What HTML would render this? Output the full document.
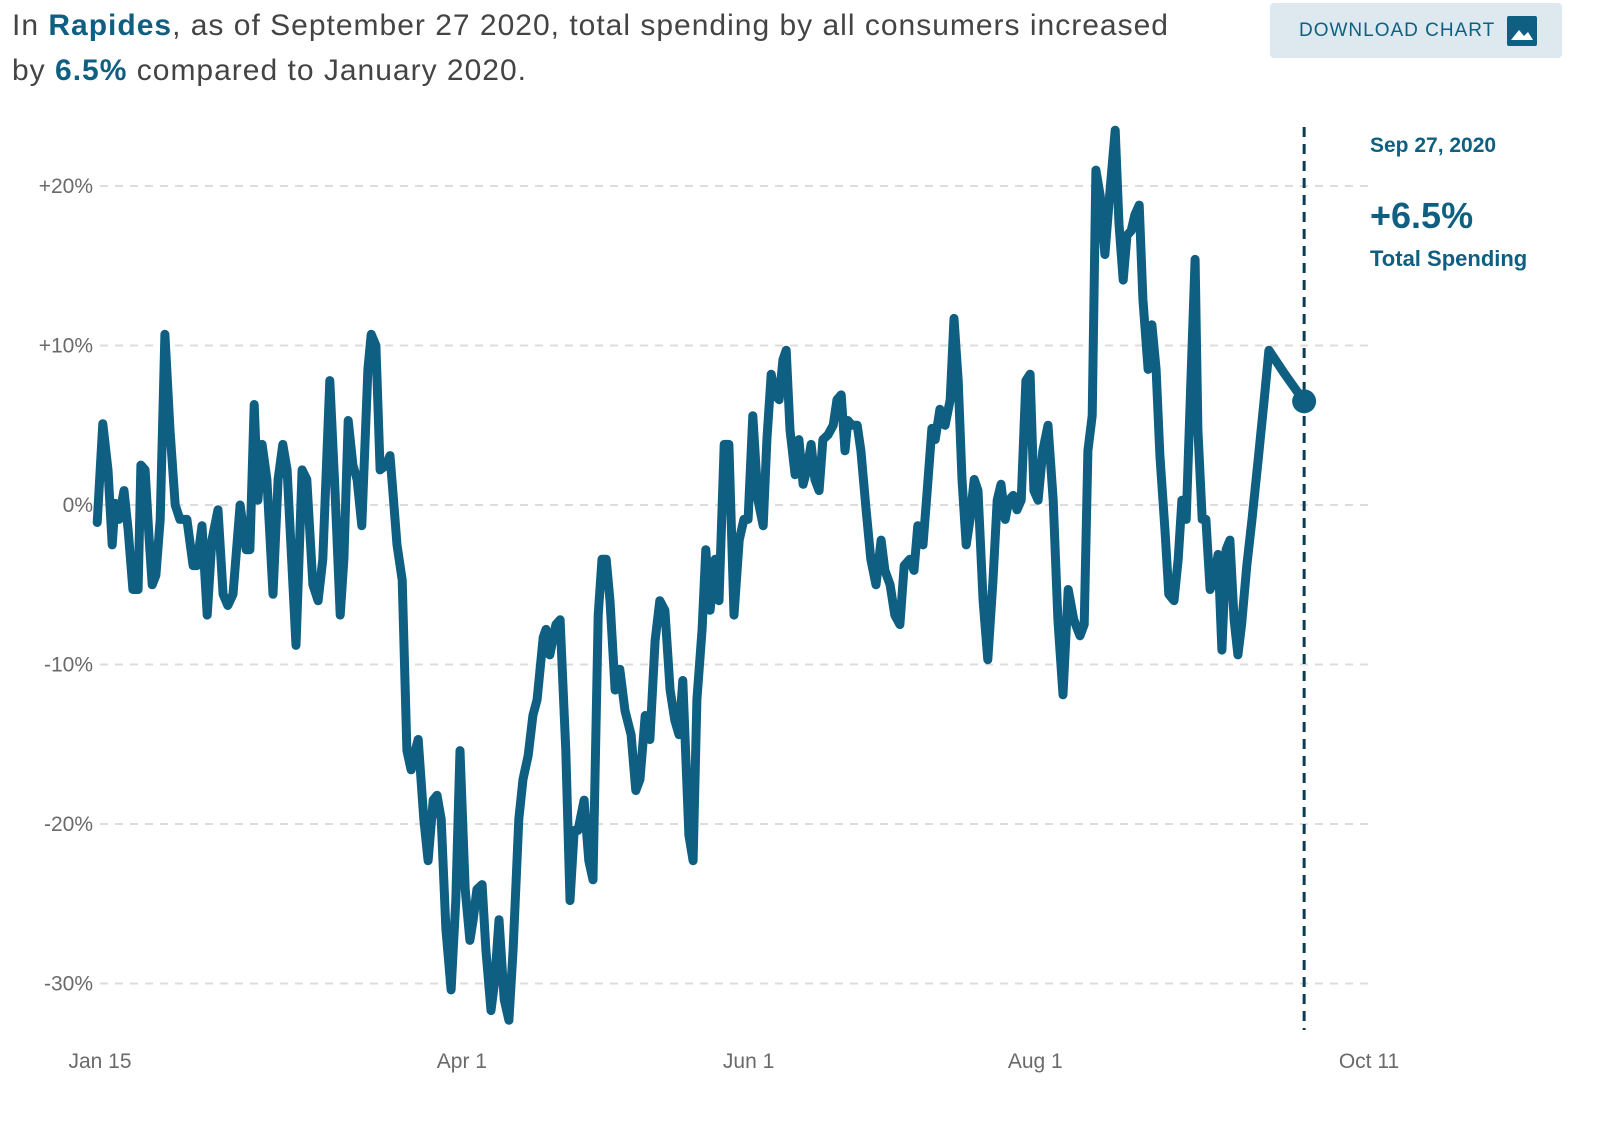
<!DOCTYPE html>
<html><head><meta charset="utf-8">
<style>
body{margin:0;background:#fff;font-family:"Liberation Sans",sans-serif;}
#wrap{position:relative;width:1605px;height:1128px;overflow:hidden;}
.hdr{position:absolute;left:12px;top:3px;font-size:30px;letter-spacing:1px;line-height:45px;color:#444;white-space:nowrap;}
.hdr b{color:#0f5f82}
.btn{position:absolute;left:1270px;top:3px;width:292px;height:55px;background:#dde9ef;border-radius:4px;color:#0f5f82;font-size:19px;letter-spacing:1px;}
</style></head><body>
<div id="wrap">
<div class="hdr">In <b>Rapides</b>, as of September 27 2020, total spending by all consumers increased<br>by <b>6.5%</b> compared to January 2020.</div>
<div class="btn"><span style="position:absolute;left:29px;top:17px">DOWNLOAD CHART</span>
<svg style="position:absolute;left:236px;top:12px" width="32" height="32"><rect x="1" y="1" width="30" height="30" rx="2" fill="#0f5f82"/><path d="M5 25 L13 15 L18 21 L22 17 L27 25 Z" fill="#fff"/></svg></div>
<svg id="chart" width="1605" height="1128" style="position:absolute;left:0;top:0"></svg>
</div>
<script>
const tickValues=[20,10,0,-10,-20,-30];
const tickLabels=["+20%","+10%","0%","-10%","-20%","-30%"];
const xTickDays=[0,77,138,199,270];
const xTickLabels=["Jan 15","Apr 1","Jun 1","Aug 1","Oct 11"];
const days=[-0.6,0.6,1.7,2.6,3.2,4.0,5.1,6.0,7.0,8.1,8.7,9.6,10.4,11.1,11.9,12.8,13.8,14.9,16.0,17.0,18.5,19.8,20.6,21.7,22.8,23.8,25.1,26.2,27.2,28.3,29.8,31.1,31.9,32.8,33.6,34.5,35.5,36.8,37.9,38.9,39.8,41.7,43.0,44.0,45.3,46.4,47.4,48.9,50.0,51.1,51.9,52.8,53.8,54.7,55.7,57.0,57.7,58.7,59.6,60.9,61.7,62.3,63.2,64.3,65.3,66.2,66.8,67.7,68.9,69.8,70.9,71.7,72.6,73.6,74.7,75.7,76.6,77.7,78.7,79.4,80.2,81.3,82.1,83.2,84.0,84.9,86.0,87.0,87.9,89.1,90.0,91.1,92.1,93.0,94.3,94.9,95.7,97.0,97.9,99.1,100.0,100.9,101.7,103.0,104.0,104.9,106.0,106.8,107.7,108.5,109.6,110.6,111.7,113.0,114.0,114.9,116.0,117.0,118.1,119.1,120.2,121.3,122.3,123.2,124.0,125.3,126.2,127.0,128.1,128.9,129.8,130.9,131.7,132.8,133.8,134.9,136.0,137.0,137.9,138.9,140.0,141.1,141.9,142.8,143.6,144.5,145.3,146.0,146.8,147.9,148.7,149.6,150.4,151.3,152.1,153.0,153.8,154.9,156.0,156.8,157.7,158.5,159.1,160.0,161.1,161.9,163.0,164.0,165.1,166.2,167.0,168.1,169.1,170.2,171.1,172.3,173.2,174.0,175.1,176.0,177.0,177.7,178.7,179.8,180.9,181.7,182.6,183.4,184.3,185.1,186.0,186.8,187.9,188.9,190.0,190.9,191.7,192.6,193.4,194.3,195.1,196.0,197.0,197.9,198.7,199.6,200.6,201.7,202.8,203.8,204.9,206.0,207.2,208.5,209.4,210.2,211.1,211.9,212.8,213.8,214.9,216.0,216.8,217.7,218.5,219.4,220.2,221.1,221.9,223.0,223.8,224.7,225.5,226.6,227.4,228.5,229.4,230.2,231.1,232.1,233.0,233.6,234.5,235.3,236.2,237.0,237.9,238.7,239.6,240.4,241.3,242.1,242.9,244.0,245.1,246.4,247.7,248.7,252.1,256.2];
const values=[-1.1,5.1,2.2,-2.5,0.1,-0.9,0.9,-1.6,-5.3,-5.3,2.5,2.2,-1.9,-5.0,-4.4,-0.9,10.7,4.7,0,-0.9,-0.9,-3.8,-3.8,-1.3,-6.9,-2.2,-0.3,-5.6,-6.3,-5.6,0,-2.8,-2.8,6.3,0.3,3.8,1.6,-5.6,1.6,3.8,2.2,-8.8,2.2,1.6,-5.0,-6.0,-3.4,7.8,0.9,-6.9,-3.4,5.3,2.5,1.6,-1.3,8.5,10.7,10.0,2.2,2.5,3.1,0.9,-2.5,-4.7,-15.4,-16.6,-15.7,-14.7,-19.7,-22.3,-18.5,-18.2,-19.7,-26.6,-30.4,-24.8,-15.4,-24.1,-27.3,-26.0,-24.1,-23.8,-27.9,-31.7,-29.8,-26.0,-31.0,-32.3,-27.9,-19.7,-17.2,-15.7,-13.2,-12.2,-8.3,-7.8,-9.4,-7.5,-7.2,-15.4,-24.8,-20.4,-20.4,-18.5,-22.3,-23.5,-6.9,-3.4,-3.4,-6.0,-11.6,-10.3,-12.9,-14.4,-17.9,-17.2,-13.2,-14.7,-8.5,-6.0,-6.6,-11.6,-13.5,-14.4,-11.0,-20.7,-22.3,-12.2,-7.8,-2.8,-6.6,-3.4,-6.0,3.8,3.8,-6.9,-2.2,-0.9,-0.9,5.6,0.3,-1.3,4.1,8.2,6.9,6.6,9.1,9.7,4.7,1.9,4.1,1.3,2.2,3.8,1.6,0.9,4.1,4.4,5.0,6.6,6.9,3.4,5.3,5.0,5.0,3.4,-0.3,-3.4,-5.0,-2.2,-4.1,-5.0,-6.9,-7.5,-3.8,-3.4,-4.1,-1.3,-2.5,0.9,4.8,4.1,6.0,5.0,6.6,11.7,7.8,1.6,-2.5,-0.9,1.6,0.9,-6.0,-9.7,-4.7,0.3,1.3,-0.9,0.3,0.6,-0.3,0.3,7.8,8.2,0.9,0.3,3.4,5.0,0.3,-7.2,-11.9,-5.3,-7.2,-8.2,-7.5,3.4,5.6,21.0,19.4,15.7,19.7,23.5,17.6,14.1,16.9,17.2,18.2,18.8,12.9,8.5,11.3,8.5,3.1,-1.6,-5.6,-6.0,-3.4,0.3,-0.9,7.8,15.4,4.7,-0.9,-0.9,-5.3,-4.7,-3.1,-9.1,-2.8,-2.2,-7.2,-9.4,-7.5,-3.8,-0.9,2.8,6.6,9.7,8.2,6.5];
const lastLabel="Sep 27, 2020";

const X=d=>100+d*4.70;
const Y=v=>505-v*15.95;
const svg=document.getElementById('chart');
const NS='http://www.w3.org/2000/svg';
function mk(t,a){const e=document.createElementNS(NS,t);for(const k in a)e.setAttribute(k,a[k]);svg.appendChild(e);return e;}
tickValues.forEach((v,i)=>{
  const g=mk('line',{x1:100,x2:1370,y1:Y(v),y2:Y(v),stroke:'#dcdcdc','stroke-width':2,'stroke-dasharray':'8,7'});
  
  
  const t=mk('text',{x:93,y:Y(v)+7,'text-anchor':'end','font-size':21,fill:'#6a6a6a'});
  t.textContent=tickLabels[i];
  
  
});
xTickDays.forEach((d,i)=>{
  const t=mk('text',{x:X(d),y:1068,'text-anchor':'middle','font-size':21,fill:'#6a6a6a'});
  t.textContent=xTickLabels[i];
  
  
});
const lastD=days[days.length-1], lastV=values[values.length-1];
const vl=mk('line',{x1:X(lastD),x2:X(lastD),y1:127,y2:1030,stroke:'#0d3b54','stroke-width':3,'stroke-dasharray':'10,7'});


const p=mk('path',{d:days.map((d,i)=>(i?'L':'M')+X(d).toFixed(1)+' '+Y(values[i]).toFixed(1)).join(''),fill:'none',stroke:'#0f5f82','stroke-width':9,'stroke-linejoin':'round','stroke-linecap':'round'});


const c=mk('circle',{cx:X(lastD),cy:Y(lastV),r:12,fill:'#0f5f82'});


const a1=mk('text',{x:1370,y:152,'font-size':21,fill:'#0f5f82','font-weight':'bold'});a1.textContent=lastLabel;


const a2=mk('text',{x:1370,y:228,'font-size':36,fill:'#0f5f82','font-weight':'bold'});a2.textContent=(lastV>=0?'+':'')+lastV.toFixed(1)+'%';


const a3=mk('text',{x:1370,y:266,'font-size':22,fill:'#0f5f82','font-weight':'bold'});a3.textContent='Total Spending';


</script>
</body></html>
